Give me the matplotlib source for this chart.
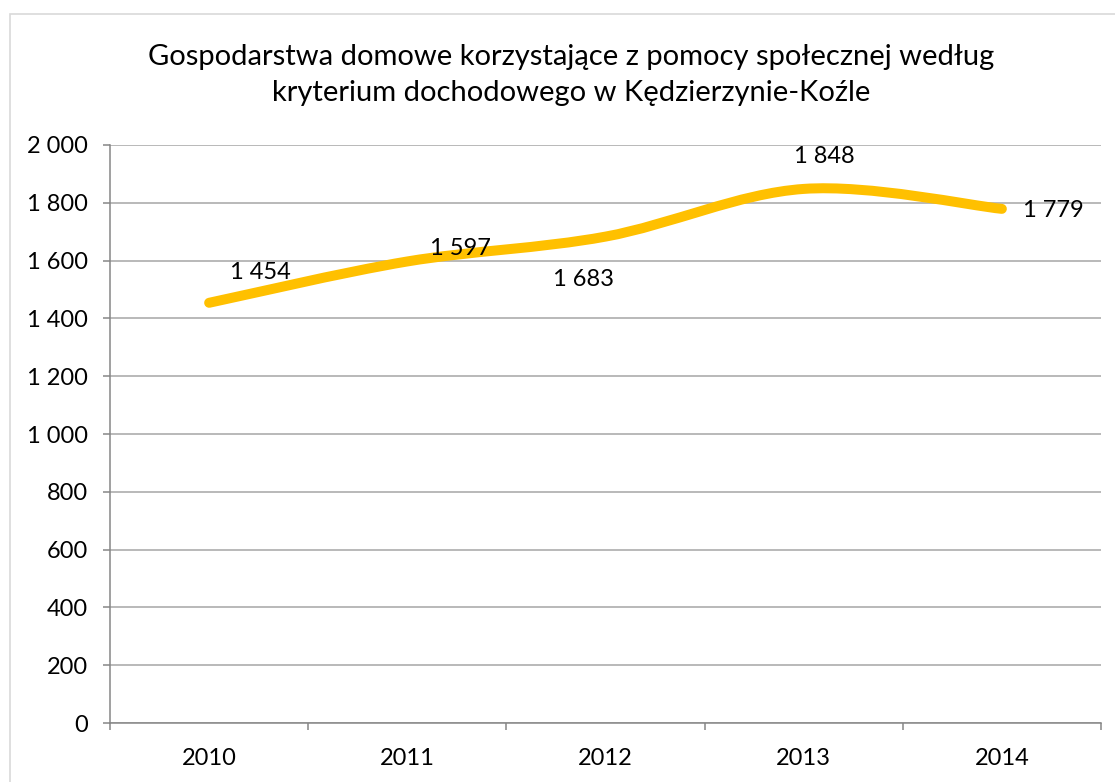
import matplotlib
matplotlib.use("Agg")
import matplotlib.pyplot as plt
from matplotlib.path import Path
from matplotlib.patches import PathPatch, Rectangle
from matplotlib.ticker import FuncFormatter, FixedLocator

# Data
years = ["2010", "2011", "2012", "2013", "2014"]
households = [1454, 1597, 1683, 1848, 1779]
label_offsets = [(15, 22), (16.5, 9.5), (-37.5, -31), (-7, 23), (15, -1.5)]  # points

title = "Gospodarstwa domowe korzystające z pomocy społecznej według\nkryterium dochodowego w Kędzierzynie-Koźle"

plt.rcParams['font.family'] = ['Lato', 'DejaVu Sans']

fig = plt.figure(figsize=(11.15, 7.82), dpi=100)
ax = fig.add_axes([0.0987, 0.0754, 0.8887, 0.7392])

# chart border (Excel style)
fig.patches.append(Rectangle((10 / 1115, -0.05), 1.2, 1 - 14 / 782 + 0.05,
                             transform=fig.transFigure, fill=False,
                             edgecolor="#d9d9d9", linewidth=1.2))

# smoothed line (Catmull-Rom style bezier like Excel)
xs = list(range(len(households)))
pts = list(zip(xs, households))
verts = [pts[0]]
codes = [Path.MOVETO]
for i in range(len(pts) - 1):
    p0 = pts[i - 1] if i > 0 else pts[i]
    p1 = pts[i]
    p2 = pts[i + 1]
    p3 = pts[i + 2] if i + 2 < len(pts) else pts[i + 1]
    c1 = (p1[0] + (p2[0] - p0[0]) / 6.0, p1[1] + (p2[1] - p0[1]) / 6.0)
    c2 = (p2[0] - (p3[0] - p1[0]) / 6.0, p2[1] - (p3[1] - p1[1]) / 6.0)
    verts += [c1, c2, p2]
    codes += [Path.CURVE4] * 3
ax.add_patch(PathPatch(Path(verts, codes), facecolor="none", edgecolor="#FFC000",
                       linewidth=7.2, capstyle="round", joinstyle="round", zorder=3))

def fmt(v, pos=None):
    return "{:,}".format(int(v)).replace(",", " ")

for x, v, off in zip(xs, households, label_offsets):
    ax.annotate(fmt(v), (x, v), xytext=off, textcoords="offset points",
                fontsize=17, color="#000000", ha="left", va="center", zorder=4)

ax.set_xlim(-0.5, len(years) - 0.5)
ax.set_ylim(0, 2000)
ax.set_yticks(range(0, 2001, 200))
ax.yaxis.set_major_formatter(FuncFormatter(fmt))
ax.grid(axis="y", color="#a6a6a6", linewidth=1.1)
ax.set_axisbelow(True)

ax.xaxis.set_major_locator(FixedLocator([i - 0.5 for i in range(len(years) + 1)]))
ax.xaxis.set_minor_locator(FixedLocator(xs))
ax.set_xticklabels([])
ax.set_xticklabels(years, minor=True)
ax.tick_params(axis="x", which="major", length=5, color="#868686", width=1.1)
ax.tick_params(axis="x", which="minor", length=0, pad=18, labelsize=17)
ax.tick_params(axis="y", length=5, color="#868686", width=1.1, labelsize=17, pad=11)

for s in ["top", "right"]:
    ax.spines[s].set_visible(False)
for s in ["left", "bottom"]:
    ax.spines[s].set_color("#868686")
    ax.spines[s].set_linewidth(1.1)

fig.text(0.512, 0.904, title, ha="center", va="center", fontsize=21, linespacing=1.48)

fig.savefig("out.png", dpi=100)
